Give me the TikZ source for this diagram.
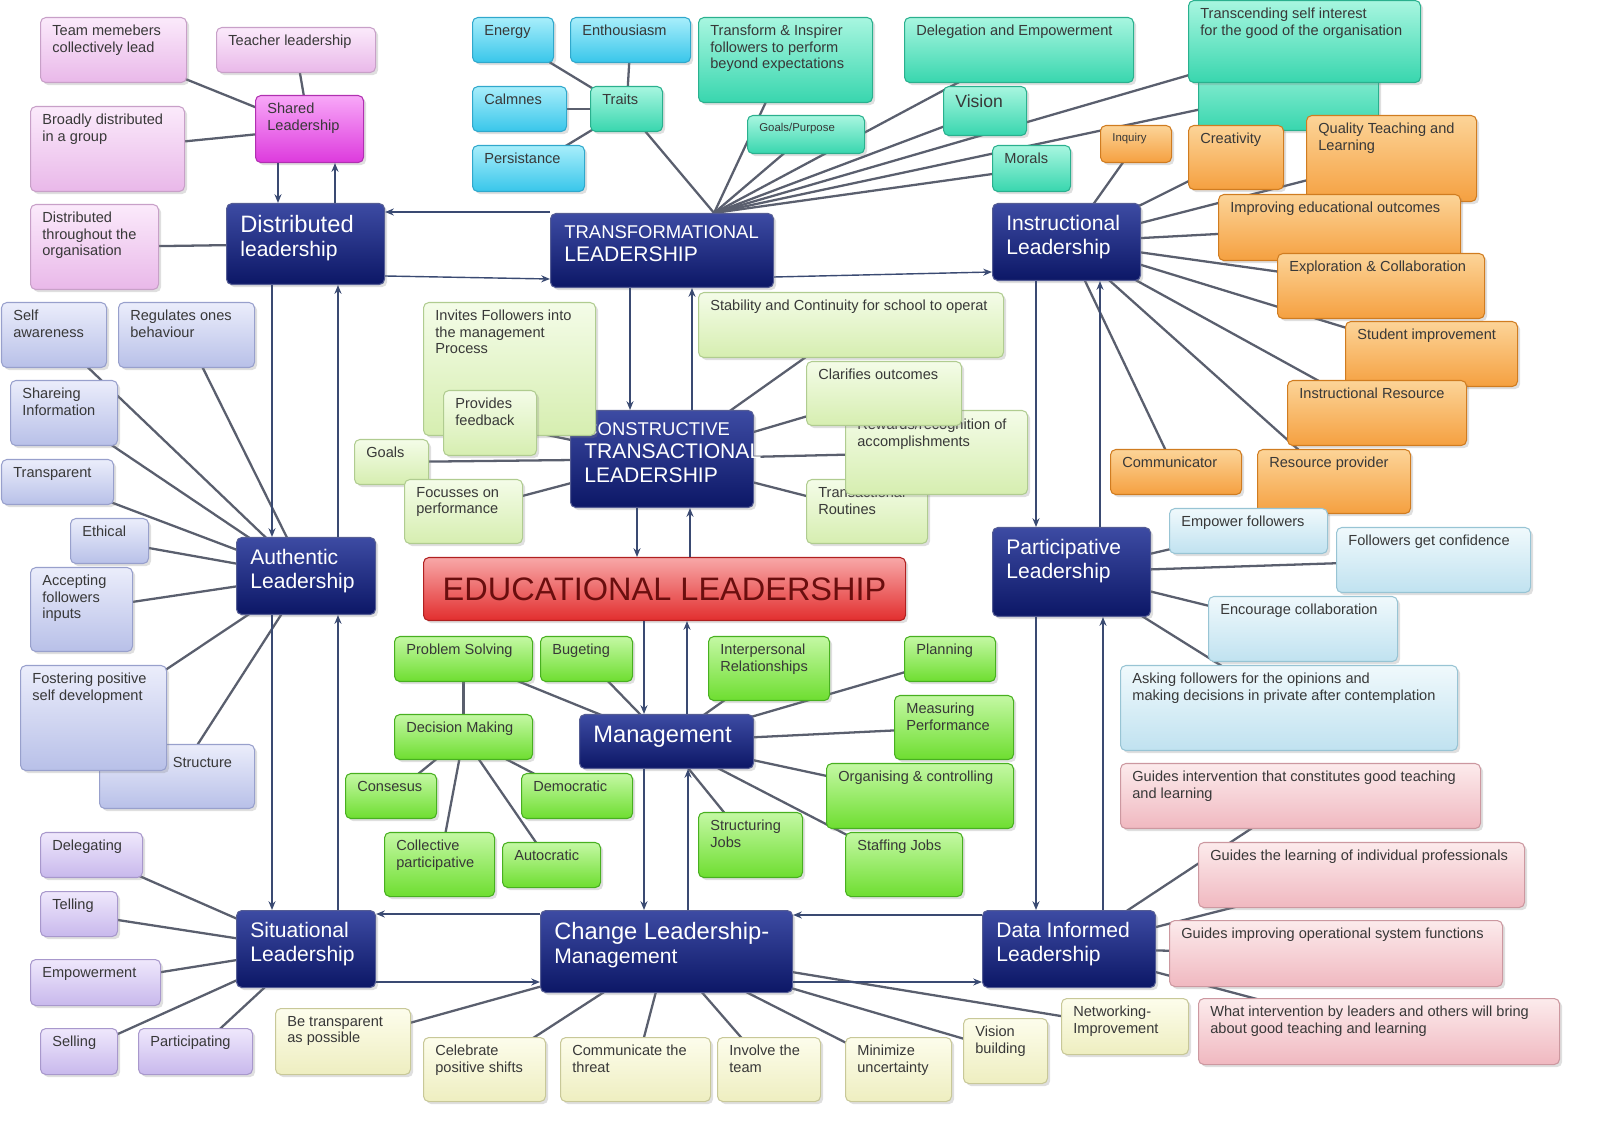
\documentclass[tikz,border=0pt]{standalone}
\usepackage{fontspec}
\setmainfont{Liberation Sans}
\usetikzlibrary{backgrounds,shadows,arrows.meta}
\definecolor{navy}{HTML}{0C1766}
\definecolor{navytop}{HTML}{3D4BA3}
\definecolor{linkc}{HTML}{5A5F6E}
\definecolor{flowc}{HTML}{3A4A72}
\definecolor{pinkd}{HTML}{C8A0C8}\definecolor{pinkt}{HTML}{FBEAFB}\definecolor{pinkf}{HTML}{E9B8E9}
\definecolor{magd}{HTML}{B030B0}\definecolor{magt}{HTML}{F8A8F8}\definecolor{magf}{HTML}{DD3ADD}
\definecolor{cyand}{HTML}{30A8CC}\definecolor{cyant}{HTML}{A8EEFB}\definecolor{cyanf}{HTML}{38C6EA}
\definecolor{teald}{HTML}{2AB08E}\definecolor{tealt}{HTML}{A8F6E0}\definecolor{tealf}{HTML}{38D6AE}
\definecolor{orad}{HTML}{D07C20}\definecolor{orat}{HTML}{FCD498}\definecolor{oraf}{HTML}{F5A040}
\definecolor{cgrd}{HTML}{B0CC90}\definecolor{cgrt}{HTML}{F4FCE8}\definecolor{cgrf}{HTML}{D6EEB0}
\definecolor{lavd}{HTML}{98A0CC}\definecolor{lavt}{HTML}{EBEDFB}\definecolor{lavf}{HTML}{B8C0E8}
\definecolor{lbld}{HTML}{98C4D4}\definecolor{lblt}{HTML}{F0F9FC}\definecolor{lblf}{HTML}{C0E2F0}
\definecolor{rosd}{HTML}{CC98A0}\definecolor{rost}{HTML}{FCEBEC}\definecolor{rosf}{HTML}{F0B8C0}
\definecolor{purd}{HTML}{A898CC}\definecolor{purt}{HTML}{EFE8FC}\definecolor{purf}{HTML}{C8B8EC}
\definecolor{cred}{HTML}{C8C898}\definecolor{cret}{HTML}{FDFDEC}\definecolor{cref}{HTML}{EEEEC0}
\definecolor{grnd}{HTML}{48B020}\definecolor{grnt}{HTML}{C4F8A4}\definecolor{grnf}{HTML}{6EDE30}
\definecolor{redd}{HTML}{B02020}\definecolor{redt}{HTML}{F8A8A8}\definecolor{redf}{HTML}{E22E2E}
\definecolor{edutext}{HTML}{6A0E0E}
\tikzset{
	box/.style={rectangle,rounded corners=3pt,inner sep=0pt,line width=0.6pt,
		drop shadow={opacity=0.25,shadow xshift=1.5pt,shadow yshift=-1.5pt}},
	hub/.style={box,draw=navy!70,top color=navytop,bottom color=navy},
	pinkb/.style={box,draw=pinkd,top color=pinkt,bottom color=pinkf},
	magb/.style={box,draw=magd,top color=magt,bottom color=magf},
	cyanb/.style={box,draw=cyand,top color=cyant,bottom color=cyanf},
	tealb/.style={box,draw=teald,top color=tealt,bottom color=tealf},
	orangeb/.style={box,draw=orad,top color=orat,bottom color=oraf},
	cgreenb/.style={box,draw=cgrd,top color=cgrt,bottom color=cgrf},
	lavb/.style={box,draw=lavd,top color=lavt,bottom color=lavf},
	lblueb/.style={box,draw=lbld,top color=lblt,bottom color=lblf},
	roseb/.style={box,draw=rosd,top color=rost,bottom color=rosf},
	purpb/.style={box,draw=purd,top color=purt,bottom color=purf},
	creamb/.style={box,draw=cred,top color=cret,bottom color=cref},
	greenb/.style={box,draw=grnd,top color=grnt,bottom color=grnf},
	redb/.style={box,draw=redd,top color=redt,bottom color=redf},
	leaftext/.style={align=left,inner sep=0pt,text=black!78,font=\fontsize{8.3}{9.4}\selectfont},
	hubtext/.style={align=left,inner sep=0pt,text=white,font=\fontsize{12}{13.5}\selectfont},
	link/.style={draw=linkc,line width=1.3pt},
	flow/.style={draw=flowc,line width=0.8pt,-{Stealth[length=5pt,width=4pt]}}
}
% box: style, name, x1, y1, x2, y2, text
\newcommand\bx[7]{%
	\node[#1,anchor=north west,minimum width={(#5-#3)*0.02cm},minimum height={(#6-#4)*0.02cm}] (#2) at (#3,#4) {};
	\node[leaftext,anchor=north west] (#2-t) at ([shift={(12,8)}]#2.north west) {#7};}
\newcommand\hb[7]{%
	\node[#1,anchor=north west,minimum width={(#5-#3)*0.02cm},minimum height={(#6-#4)*0.02cm}] (#2) at (#3,#4) {};
	\node[hubtext,anchor=north west] (#2-t) at ([shift={(14,12)}]#2.north west) {#7};}
\begin{document}
\begin{tikzpicture}[x=0.02cm,y=-0.02cm]
% hubs
\hb{hub}{dist}{226}{203}{384}{284}{\fontsize{13.5}{15}\selectfont Distributed\\leadership}
\hb{hub}{trans}{550}{213}{773}{287}{\fontsize{10.5}{12}\selectfont TRANSFORMATIONAL\\LEADERSHIP}
\hb{hub}{instr}{992}{203}{1140}{280}{Instructional\\Leadership}
\hb{hub}{constr}{570}{410}{753}{507}{\fontsize{10.5}{12}\selectfont CONSTRUCTIVE\\TRANSACTIONAL\\LEADERSHIP}
\hb{hub}{auth}{236}{537}{375}{614}{Authentic\\Leadership}
\hb{hub}{part}{992}{527}{1150}{616}{Participative\\Leadership}
\hb{hub}{mgmt}{579}{714}{753}{768}{\fontsize{13.5}{15}\selectfont Management}
\hb{hub}{sit}{236}{910}{375}{987}{Situational\\Leadership}
\hb{hub}{change}{540}{910}{792}{992}{\fontsize{13.5}{15}\selectfont Change Leadership-\\Management}
\hb{hub}{data}{982}{910}{1155}{987}{Data Informed\\Leadership}
\node[redb,anchor=north west,minimum width={482*0.02cm},minimum height={63*0.02cm}] (edu) at (423,557) {};
\node[font=\fontsize{18.5}{20}\selectfont,text=edutext] (edu-t) at (edu.center) {EDUCATIONAL LEADERSHIP};
% distributed
\bx{pinkb}{team}{40}{17}{186}{82}{Team memebers\\collectively lead}
\bx{pinkb}{teacher}{216}{27}{375}{72}{Teacher leadership}
\bx{pinkb}{broad}{30}{106}{184}{191}{Broadly distributed\\in a group}
\bx{pinkb}{thru}{30}{204}{158}{289}{Distributed\\throughout the\\organisation}
\bx{magb}{shared}{255}{95}{363}{162}{Shared\\Leadership}
% transformational
\bx{cyanb}{energy}{472}{17}{553}{62}{Energy}
\bx{cyanb}{enth}{570}{17}{690}{62}{Enthousiasm}
\bx{cyanb}{calm}{472}{86}{566}{131}{Calmnes}
\bx{cyanb}{persist}{472}{145}{584}{191}{Persistance}
\bx{tealb}{traits}{590}{86}{662}{131}{Traits}
\bx{tealb}{inspire}{698}{17}{872}{102}{Transform \& Inspirer\\followers  to perform\\beyond expectations}
\bx{tealb}{deleg}{904}{17}{1133}{82}{Delegation and Empowerment}
\bx{tealb}{teamb}{1198}{50}{1378}{130}{\\[1pt]Effective team building}
\bx{tealb}{transc}{1188}{0}{1420}{82}{Transcending self interest\\for the good of the organisation}
\bx{tealb}{vision}{943}{86}{1026}{135}{\fontsize{10}{12}\selectfont Vision}
\bx{tealb}{goalsp}{747}{115}{864}{153}{\fontsize{6.5}{8}\selectfont Goals/Purpose}
\bx{tealb}{morals}{992}{145}{1070}{191}{Morals}
% instructional
\bx{orangeb}{inquiry}{1100}{125}{1171}{162}{\fontsize{6.5}{8}\selectfont Inquiry}
\bx{orangeb}{creat}{1188}{125}{1283}{189}{Creativity}
\bx{orangeb}{quality}{1306}{115}{1476}{201}{Quality Teaching and\\Learning}
\bx{orangeb}{improv}{1218}{194}{1460}{260}{Improving educational outcomes}
\bx{orangeb}{explor}{1277}{253}{1484}{318}{Exploration \& Collaboration}
\bx{orangeb}{student}{1345}{321}{1517}{386}{Student improvement}
\bx{orangeb}{resource}{1287}{380}{1466}{445}{Instructional Resource}
\bx{orangeb}{comm}{1110}{449}{1241}{494}{Communicator}
\bx{orangeb}{provider}{1257}{449}{1410}{513}{Resource provider}
% constructive transactional
\bx{cgreenb}{invites}{423}{302}{595}{435}{Invites Followers into\\the management\\Process}
\bx{cgreenb}{stab}{698}{292}{1003}{357}{Stability and Continuity for school to operat}
\bx{cgreenb}{feedback}{443}{390}{536}{455}{Provides\\feedback}
\bx{cgreenb}{routines}{806}{479}{927}{543}{Transactional\\Routines}
\bx{cgreenb}{rewards}{845}{410}{1027}{494}{\\[-3pt]Rewards/recognition of\\accomplishments}
\bx{cgreenb}{clarif}{806}{361}{961}{425}{Clarifies outcomes}
\bx{cgreenb}{goals}{354}{439}{428}{484}{Goals}
\bx{cgreenb}{focus}{404}{479}{522}{543}{Focusses on\\performance}
% authentic
\bx{lavb}{selfaw}{1}{302}{106}{367}{Self\\awareness}
\bx{lavb}{regul}{118}{302}{254}{367}{Regulates ones\\behaviour}
\bx{lavb}{shareinfo}{10}{380}{117}{445}{Shareing\\Information}
\bx{lavb}{transp}{1}{459}{113}{504}{Transparent}
\bx{lavb}{ethical}{70}{518}{148}{563}{Ethical}
\bx{lavb}{accept}{30}{567}{132}{651}{Accepting\\followers\\inputs}
\bx{lavb}{struct}{99}{744}{254}{808}{\\[-1pt]\hspace{35pt}Structure}
\bx{lavb}{foster}{20}{665}{166}{770}{Fostering positive\\self development}
% participative
\bx{lblueb}{empower}{1169}{508}{1327}{553}{Empower followers}
\bx{lblueb}{confid}{1336}{527}{1530}{592}{Followers get confidence}
\bx{lblueb}{encour}{1208}{596}{1397}{661}{Encourage collaboration}
\bx{lblueb}{asking}{1120}{665}{1457}{750}{Asking followers for the opinions and\\ making decisions in private after contemplation}
% data informed
\bx{roseb}{guide1}{1120}{763}{1480}{828}{Guides intervention that constitutes good teaching\\and learning}
\bx{roseb}{guide2}{1198}{842}{1524}{907}{Guides the learning of individual professionals}
\bx{roseb}{guide3}{1169}{920}{1502}{986}{Guides improving operational system functions}
\bx{roseb}{guide4}{1198}{998}{1559}{1064}{What intervention by leaders and others will bring\\about good teaching and learning}
% situational
\bx{purpb}{delegating}{40}{832}{142}{877}{Delegating}
\bx{purpb}{telling}{40}{891}{117}{936}{Telling}
\bx{purpb}{empowm}{30}{959}{160}{1005}{Empowerment}
\bx{purpb}{selling}{40}{1028}{117}{1074}{Selling}
\bx{purpb}{particip}{138}{1028}{252}{1074}{Participating}
% change
\bx{creamb}{betransp}{275}{1008}{410}{1074}{Be transparent\\as possible}
\bx{creamb}{celeb}{423}{1037}{545}{1101}{Celebrate\\positive shifts}
\bx{creamb}{threat}{560}{1037}{710}{1101}{Communicate the\\threat}
\bx{creamb}{involve}{717}{1037}{820}{1101}{Involve the\\team}
\bx{creamb}{minim}{845}{1037}{951}{1101}{Minimize\\uncertainty}
\bx{creamb}{visionb}{963}{1018}{1047}{1083}{Vision\\building}
\bx{creamb}{network}{1061}{998}{1188}{1054}{Networking-\\Improvement}
% management
\bx{greenb}{problem}{394}{636}{532}{681}{Problem Solving}
\bx{greenb}{budget}{540}{636}{632}{681}{Bugeting}
\bx{greenb}{interp}{708}{636}{829}{700}{Interpersonal\\Relationships}
\bx{greenb}{planning}{904}{636}{995}{681}{Planning}
\bx{greenb}{decision}{394}{714}{532}{759}{Decision Making}
\bx{greenb}{measure}{894}{695}{1013}{759}{Measuring\\Performance}
\bx{greenb}{consens}{345}{773}{436}{818}{Consesus}
\bx{greenb}{democ}{521}{773}{632}{818}{Democratic}
\bx{greenb}{organ}{826}{763}{1013}{828}{Organising \& controlling}
\bx{greenb}{collect}{384}{832}{494}{896}{Collective\\participative}
\bx{greenb}{autoc}{502}{842}{600}{887}{Autocratic}
\bx{greenb}{structj}{698}{812}{802}{877}{Structuring\\Jobs}
\bx{greenb}{staff}{845}{832}{962}{896}{Staffing Jobs}
% connectors
\begin{scope}[on background layer]
\foreach \a in {team,teacher,broad} \draw[link] (\a.center) -- (shared.center);
\draw[link] (thru.center) -- (dist.center);
\foreach \a in {energy,enth,calm,persist} \draw[link] (\a.center) -- (traits.center);
\foreach \a in {traits,inspire,deleg,transc,teamb,vision,goalsp,morals} \draw[link] (\a.center) -- ([xshift=-1.2cm]trans.north east);
\foreach \a in {inquiry,creat,quality,improv,explor,student,resource,comm,provider} \draw[link] (\a.center) -- (instr.center);
\foreach \a in {invites,stab,feedback,clarif,rewards,goals,focus,routines} \draw[link] (\a.center) -- (constr.center);
\foreach \a in {selfaw,regul,shareinfo,transp,ethical,accept,foster,struct} \draw[link] (\a.center) -- (auth.center);
\foreach \a in {empower,confid,encour,asking} \draw[link] (\a.center) -- (part.center);
\foreach \a in {guide1,guide2,guide3,guide4} \draw[link] (\a.center) -- (data.center);
\foreach \a in {delegating,telling,empowm,selling,particip} \draw[link] (\a.center) -- (sit.center);
\foreach \a in {betransp,celeb,threat,involve,minim,visionb,network} \draw[link] (\a.center) -- (change.center);
\foreach \a in {problem,budget,interp,planning,measure,organ,structj,staff} \draw[link] (\a.center) -- (mgmt.center);
\foreach \a in {consens,democ,collect,autoc} \draw[link] (\a.center) -- (decision.center);
\draw[link] (decision.center) -- (problem.center);
\end{scope}
% flows between hubs
\draw[flow] (shared.south -| 278,0) -- (dist.north -| 278,0);
\draw[flow] (dist.north -| 335,0) -- (shared.south -| 335,0);
\draw[flow] (trans.west |- 0,212) -- (dist.east |- 0,212);
\draw[flow] (dist.east |- 0,276) -- (trans.west |- 0,279);
\draw[flow] (trans.east |- 0,277) -- (instr.west |- 0,272);
\draw[flow] (trans.south -| 630,0) -- (constr.north -| 630,0);
\draw[flow] (constr.north -| 692,0) -- (trans.south -| 692,0);
\draw[flow] (constr.south -| 637,0) -- (edu.north -| 637,0);
\draw[flow] (edu.north -| 690,0) -- (constr.south -| 690,0);
\draw[flow] (edu.south -| 644,0) -- (mgmt.north -| 644,0);
\draw[flow] (mgmt.north -| 687,0) -- (edu.south -| 687,0);
\draw[flow] (mgmt.south -| 644,0) -- (change.north -| 644,0);
\draw[flow] (change.north -| 688,0) -- (mgmt.south -| 688,0);
\draw[flow] (dist.south -| 272,0) -- (auth.north -| 272,0);
\draw[flow] (auth.north -| 338,0) -- (dist.south -| 338,0);
\draw[flow] (auth.south -| 272,0) -- (sit.north -| 272,0);
\draw[flow] (sit.north -| 338,0) -- (auth.south -| 338,0);
\draw[flow] (change.west |- 0,914) -- (sit.east |- 0,914);
\draw[flow] (sit.east |- 0,982) -- (change.west |- 0,982);
\draw[flow] (data.west |- 0,915) -- (change.east |- 0,915);
\draw[flow] (change.east |- 0,982) -- (data.west |- 0,982);
\draw[flow] (instr.south -| 1036,0) -- (part.north -| 1036,0);
\draw[flow] (part.north -| 1100,0) -- (instr.south -| 1100,0);
\draw[flow] (part.south -| 1036,0) -- (data.north -| 1036,0);
\draw[flow] (data.north -| 1103,0) -- (part.south -| 1103,0);
\pgfresetboundingbox
\useasboundingbox (0,0) rectangle (1597,1121);
\end{tikzpicture}
\end{document}
